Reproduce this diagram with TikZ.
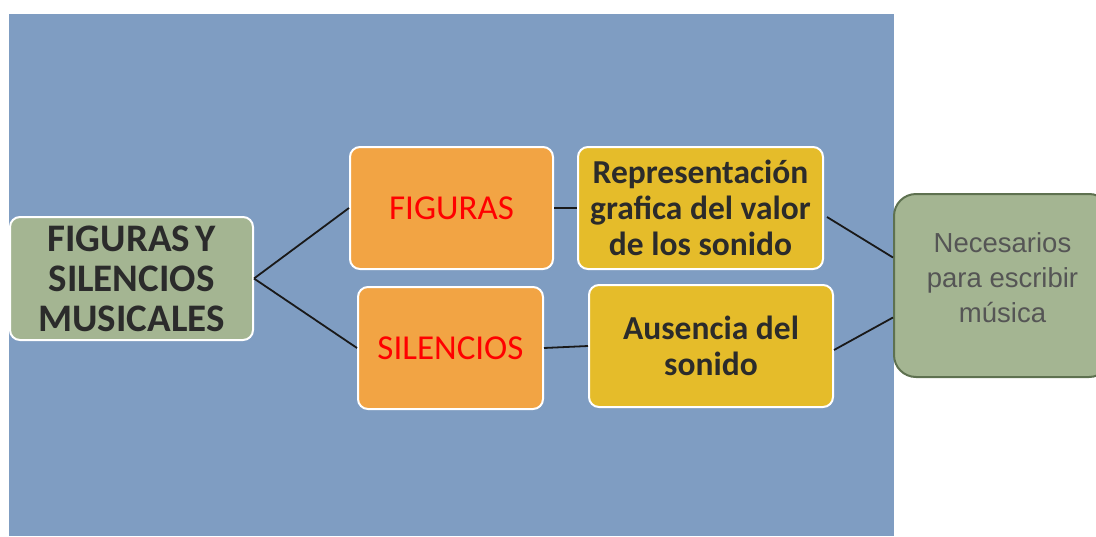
\documentclass[tikz,border=0pt]{standalone}
\usepackage{fontspec}
\setmainfont{Carlito}
\newfontfamily\arialf{Liberation Sans}
\usetikzlibrary{calc}
\definecolor{bgblue}{HTML}{7F9DC2}
\definecolor{sage}{HTML}{A4B592}
\definecolor{sagedark}{HTML}{5E7150}
\definecolor{orangebox}{HTML}{F2A444}
\definecolor{yellowbox}{HTML}{E5BC2A}
\definecolor{darktext}{HTML}{2B2B2B}
\definecolor{graytext}{HTML}{555555}
\tikzset{
  box/.style={draw=white, line width=2pt, rounded corners=10pt, align=center, inner sep=0pt},
  mainbox/.style={box, fill=sage, text=darktext, font=\fontsize{39}{40}\selectfont\bfseries},
  catbox/.style={box, fill=orangebox, text=red, font=\fontsize{35}{38}\selectfont},
  descbox/.style={box, fill=yellowbox, text=darktext, font=\fontsize{33.5}{36}\selectfont\bfseries},
  endbox/.style={draw=sagedark, line width=2pt, rounded corners=22pt, fill=sage, text=graytext, align=center, font=\arialf\fontsize{27.5}{35}\selectfont},
  link/.style={draw=black!90, line width=1.8pt}
}
\begin{document}
\begin{tikzpicture}[x=1pt,y=-1pt]
\useasboundingbox (0,0) rectangle (1096,536);
\fill[bgblue] (9,14) rectangle (894,536);
\node[mainbox, minimum width=243pt, minimum height=123pt] (main) at (131.5,278.5) {FIGURAS\kern-4pt\ Y\\SILENCIOS\\MUSICALES};
\node[catbox, minimum width=203pt, minimum height=122pt] (fig) at (451.5,208) {FIGURAS};
\node[catbox, minimum width=185pt, minimum height=122pt] (sil) at (450.5,348) {SILENCIOS};
\node[descbox, minimum width=245pt, minimum height=122pt] (rep) at (700.5,208) {Representación\\grafica del valor\\de los sonido};
\node[descbox, minimum width=244pt, minimum height=122pt] (aus) at (711,346) {Ausencia del\\sonido};
\node[endbox, minimum width=217pt, minimum height=183pt] (nec) at (1002.5,285.5) {Necesarios\\para escribir\\música\\[-19pt]\mbox{}};
\coordinate (necA) at ($(nec.west)+(0,-28)$);
\coordinate (necB) at ($(nec.west)+(0,32)$);
\draw[link] (main.east) -- (fig.west);
\draw[link] (main.east) -- (sil.west);
\draw[link] (fig.east) -- (rep.west);
\draw[link] (sil.east) -- (aus.west);
\draw[link] ($(rep.east)+(3,9)$) -- (necA);
\draw[link] ($(aus.east)+(0,4)$) -- (necB);
\end{tikzpicture}
\end{document}
